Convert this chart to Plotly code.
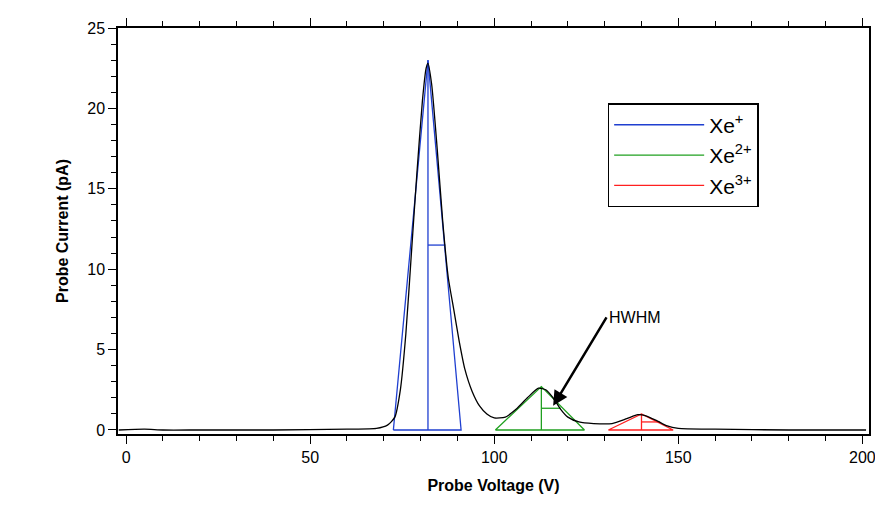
import plotly.graph_objects as go

# measured probe trace
volt = [-2, 5, 10, 20, 40, 60, 68, 71, 73, 74.5, 76, 77.5, 79, 80.5, 81.5, 82, 83, 84.5, 86, 87.5, 89,
        90.5, 92, 94, 96, 98, 100, 103, 106, 109, 112, 114, 116, 118, 120, 123, 127, 132, 136, 139,
        141, 144, 147, 150, 160, 180, 201]
curr = [0, 0.05, 0, 0, 0, 0.05, 0.1, 0.3, 0.8, 2.5, 6, 11, 16, 20.5, 22.5, 22.8, 21.5, 17.5, 13, 9.5, 7.5,
        5.5, 3.8, 2.4, 1.5, 1.0, 0.75, 0.8, 1.3, 2.0, 2.6, 2.5, 2.0, 1.3, 0.8, 0.5, 0.4, 0.4, 0.7, 0.95,
        0.9, 0.6, 0.25, 0.1, 0.05, 0, 0]

# triangle fits: left base, apex, right base, peak height, half-width end
species = ["Xe<sup>+</sup>", "Xe<sup>2+</sup>", "Xe<sup>3+</sup>"]
colors = ["#1f3fd0", "#20a020", "#ff2020"]
base_left = [72.6, 100.3, 131]
apex = [82, 112.8, 140]
base_right = [91, 124.5, 148.6]
peak = [23, 2.7, 1.0]
hw_end = [86.7, 118, 145]

fig = go.Figure()
for i, name in enumerate(species):
    h = peak[i]
    xs = [base_left[i], apex[i], base_right[i], base_left[i], None, apex[i], apex[i], None, apex[i], hw_end[i]]
    ys = [0, h, 0, 0, None, 0, h, None, h / 2, h / 2]
    fig.add_trace(go.Scatter(x=xs, y=ys, mode="lines", name=name,
                             line=dict(color=colors[i], width=1.3)))
fig.add_trace(go.Scatter(x=volt, y=curr, mode="lines", showlegend=False,
                         line=dict(color="black", width=1.3, shape="spline", smoothing=0.6)))

fig.add_annotation(x=116, y=1.5, ax=130.5, ay=7.0, axref="x", ayref="y",
                   text="HWHM", showarrow=True, arrowhead=2, arrowsize=1.2, arrowwidth=2.5,
                   arrowcolor="black", xanchor="left", standoff=0, font=dict(size=16, color="black"))

fig.update_layout(
    width=883, height=512, paper_bgcolor="white", plot_bgcolor="white",
    margin=dict(l=110, r=22, t=20, b=86, autoexpand=False),
    font=dict(family="Liberation Sans, Arial", size=16, color="black"),
    legend=dict(x=0.652, y=0.815, xanchor="left", yanchor="top", bordercolor="black",
                borderwidth=1.5, bgcolor="white", font=dict(size=21),
                itemwidth=90, tracegroupgap=20, entrywidth=135),
    xaxis=dict(range=[-2.2, 201.8], tickvals=[0, 50, 100, 150, 200], ticks="outside",
               ticklen=8, tickcolor="black", minor=dict(ticks="outside", ticklen=5, dtick=10, tickcolor="black"),
               showline=True, linecolor="black", linewidth=1.5, mirror="ticks", showgrid=False,
               zeroline=False, automargin=False, title=dict(text="<b>Probe Voltage (V)</b>", font=dict(size=16))),
    yaxis=dict(range=[-0.25, 25], tickvals=[0, 5, 10, 15, 20, 25], ticks="outside",
               ticklen=8, tickcolor="black", minor=dict(ticks="outside", ticklen=5, dtick=1, tickcolor="black"),
               showline=True, linecolor="black", linewidth=1.5, mirror=True, showgrid=False,
               zeroline=False, automargin=False, title=dict(text="<b>Probe Current (pA)</b>", font=dict(size=16))),
)
fig.write_html("out.html")
